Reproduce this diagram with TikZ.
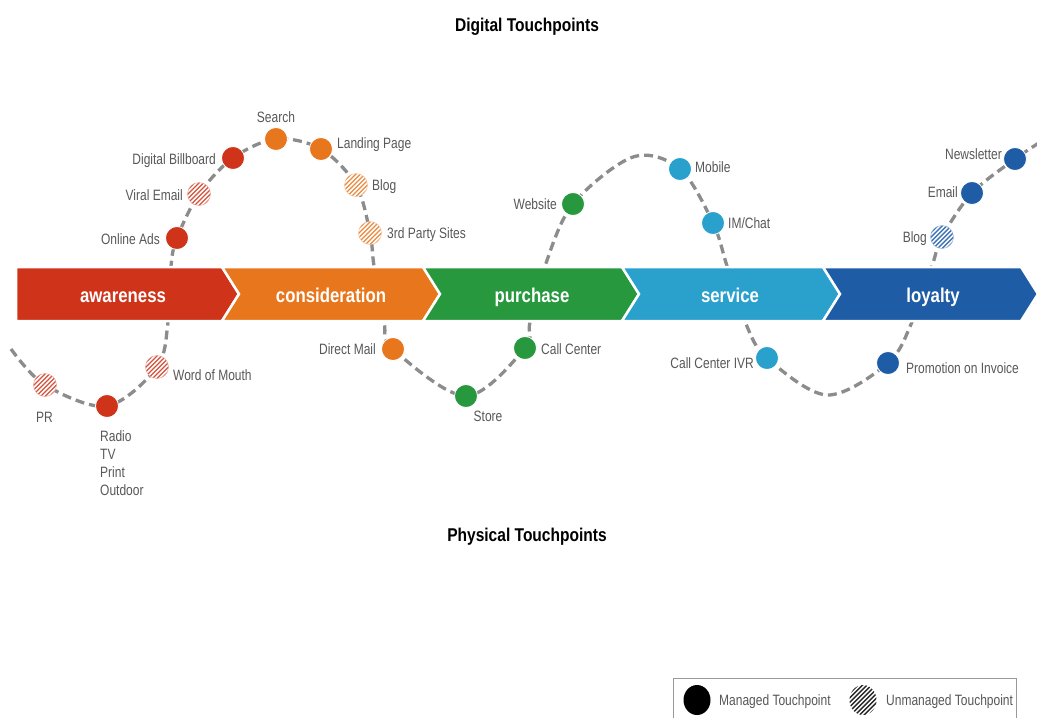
\documentclass[tikz,border=0pt]{standalone}
\usepackage{fontspec}
\setmainfont{Liberation Sans}[FakeStretch=0.8]
\newfontfamily\stagefont{Liberation Sans}[FakeStretch=0.84]
\usetikzlibrary{backgrounds,shapes.geometric}
\definecolor{aw}{RGB}{207,52,26}
\definecolor{co}{RGB}{232,118,28}
\definecolor{pu}{RGB}{40,152,62}
\definecolor{se}{RGB}{42,160,205}
\definecolor{lo}{RGB}{30,92,166}
\definecolor{labelgray}{RGB}{88,88,88}
\definecolor{trailgray}{RGB}{140,140,140}
\begin{document}
\begin{tikzpicture}[x=1pt,y=-1pt,
  lbl/.style={font=\fontsize{15}{18}\selectfont, text=labelgray, inner sep=0pt},
  stage/.style={font=\stagefont\bfseries\fontsize{20}{24}\selectfont, text=white, inner sep=0pt, anchor=base},
  heading/.style={font=\stagefont\bfseries\fontsize{18.5}{22}\selectfont, text=black, inner sep=0pt, anchor=base},
  tp/.style={circle, minimum size=23pt, inner sep=0pt, fill=#1, draw=white, line width=0.8pt},
  utp/.style={circle, minimum size=23pt, inner sep=0pt, fill=white, draw=#1!45, line width=0.5pt,
    path picture={\foreach \k in {-40,-35.5,...,40}
      \draw[#1!85, line width=1.4pt] ([xshift=\k pt, yshift=-20pt]path picture bounding box.center) -- ++(40pt,40pt);}},
  trail/.style={draw=trailgray, line width=3.3pt, dash pattern=on 9pt off 5pt},
  band/.style={fill=#1, draw=white, line width=2.5pt, line join=miter},
  legendbox/.style={draw=black!40, line width=0.8pt}
]
\useasboundingbox (0,0) rectangle (1037,718);

% headings
\node[heading] (hd-dig) at (527,31) {Digital Touchpoints};
\node[heading] (hd-phy) at (527,541) {Physical Touchpoints};

% touchpoints
\node[utp=aw] (pr) at (45,385) {};
\node[tp=aw] (radio) at (107,406) {};
\node[utp=aw] (wom) at (157,367) {};
\node[tp=aw] (oads) at (177,238) {};
\node[utp=aw] (viral) at (199,194) {};
\node[tp=aw] (dbill) at (233,158) {};
\node[tp=co] (search) at (276,139) {};
\node[tp=co] (landing) at (321,149) {};
\node[utp=co] (blogc) at (356,185) {};
\node[utp=co] (third) at (370,233) {};
\node[tp=co] (dmail) at (393,349) {};
\node[tp=pu] (store) at (466,396) {};
\node[tp=pu] (callc) at (525,348) {};
\node[tp=pu] (web) at (573,204) {};
\node[tp=se] (mobile) at (680,169) {};
\node[tp=se] (imchat) at (713,223) {};
\node[tp=se] (ivr) at (767,358) {};
\node[tp=lo] (promo) at (888,363) {};
\node[utp=lo] (blogl) at (942,237) {};
\node[tp=lo] (email) at (972,193) {};
\node[tp=lo] (news) at (1015,159) {};

% touchpoint labels
\node[lbl, anchor=base west] (l-pr) at (36,422) {PR};
\node[lbl, anchor=north west, align=left] (l-radio) at (100,430) {Radio\\TV\\Print\\Outdoor};
\node[lbl, anchor=base west] (l-wom) at (173,380) {Word of Mouth};
\node[lbl, anchor=base east] (l-oads) at (160,244) {Online Ads};
\node[lbl, anchor=base east] (l-viral) at (183,200) {Viral Email};
\node[lbl, anchor=base east] (l-dbill) at (216,164) {Digital Billboard};
\node[lbl, anchor=base] (l-search) at (276,122) {Search};
\node[lbl, anchor=base west] (l-landing) at (337,148) {Landing Page};
\node[lbl, anchor=base west] (l-blogc) at (372,190) {Blog};
\node[lbl, anchor=base west] (l-third) at (387,238) {3rd Party Sites};
\node[lbl, anchor=base east] (l-dmail) at (376,354) {Direct Mail};
\node[lbl, anchor=base] (l-store) at (488,421) {Store};
\node[lbl, anchor=base west] (l-callc) at (541,354) {Call Center};
\node[lbl, anchor=base east] (l-web) at (557,209) {Website};
\node[lbl, anchor=base west] (l-mobile) at (695,172) {Mobile};
\node[lbl, anchor=base west] (l-imchat) at (728,228) {IM/Chat};
\node[lbl, anchor=base east] (l-ivr) at (754,368) {Call Center IVR};
\node[lbl, anchor=base west] (l-promo) at (906,373) {Promotion on Invoice};
\node[lbl, anchor=base east] (l-blogl) at (927,242) {Blog};
\node[lbl, anchor=base east] (l-email) at (958,197) {Email};
\node[lbl, anchor=base east] (l-news) at (1002,159) {Newsletter};

% stage names
\node[stage] (s-aw) at (123,302) {awareness};
\node[stage] (s-co) at (331,302) {consideration};
\node[stage] (s-pu) at (532,302) {purchase};
\node[stage] (s-se) at (730,302) {service};
\node[stage] (s-lo) at (933,302) {loyalty};

% legend
\draw[legendbox] (673,678) rectangle (1016,730);
\node[tp=black, ellipse, minimum width=27pt, minimum height=30pt, draw=none] (lg-m) at (697,700) {};
\node[lbl, anchor=base west] (lg-mt) at (719,705) {Managed Touchpoint};
\node[utp=black, ellipse, minimum width=27pt, minimum height=30pt, draw=none] (lg-u) at (863,700) {};
\node[lbl, anchor=base west] (lg-ut) at (886,705) {Unmanaged Touchpoint};

% free ends and band crossings of the trail
\coordinate (tr0) at (11,349);
\coordinate (tr1) at (168,322);
\coordinate (tr2) at (171,266);
\coordinate (tr3) at (374,266);
\coordinate (tr4) at (384,322);
\coordinate (tr5) at (530,322);
\coordinate (tr6) at (545,266);
\coordinate (tr7) at (633,157);
\coordinate (tr8) at (727,266);
\coordinate (tr9) at (746,324);
\coordinate (tr10) at (827,395);
\coordinate (tr11) at (912,322);
\coordinate (tr12) at (932,266);
\coordinate (tr13) at (1042,141);

\begin{scope}[on background layer]
  \fill[white] (0,0) rectangle (1037,718);
  % dashed journey line
  \draw[trail] plot[smooth, tension=0.55] coordinates {
    (tr0) (pr.center) (radio.center) (wom.center) (tr1) (tr2)
    (oads.center) (viral.center) (dbill.center) (search.center) (landing.center)
    (blogc.center) (third.center) (tr3) (tr4) (dmail.center) (store.center)
    (callc.center) (tr5) (tr6) (web.center) (tr7) (mobile.center) (imchat.center)
    (tr8) (tr9) (ivr.center) (tr10) (promo.center) (tr11) (tr12)
    (blogl.center) (email.center) (news.center) (tr13)};
  % stage band
  \path[band=aw] (16,267) -- (222,267) -- (239,294) -- (222,321) -- (16,321) -- cycle;
  \path[band=co] (222,267) -- (423,267) -- (440,294) -- (423,321) -- (222,321) -- (239,294) -- cycle;
  \path[band=pu] (423,267) -- (622,267) -- (639,294) -- (622,321) -- (423,321) -- (440,294) -- cycle;
  \path[band=se] (622,267) -- (823,267) -- (840,294) -- (823,321) -- (622,321) -- (639,294) -- cycle;
  \path[band=lo] (823,267) -- (1021,267) -- (1038,294) -- (1021,321) -- (823,321) -- (840,294) -- cycle;
\end{scope}
\end{tikzpicture}
\end{document}
